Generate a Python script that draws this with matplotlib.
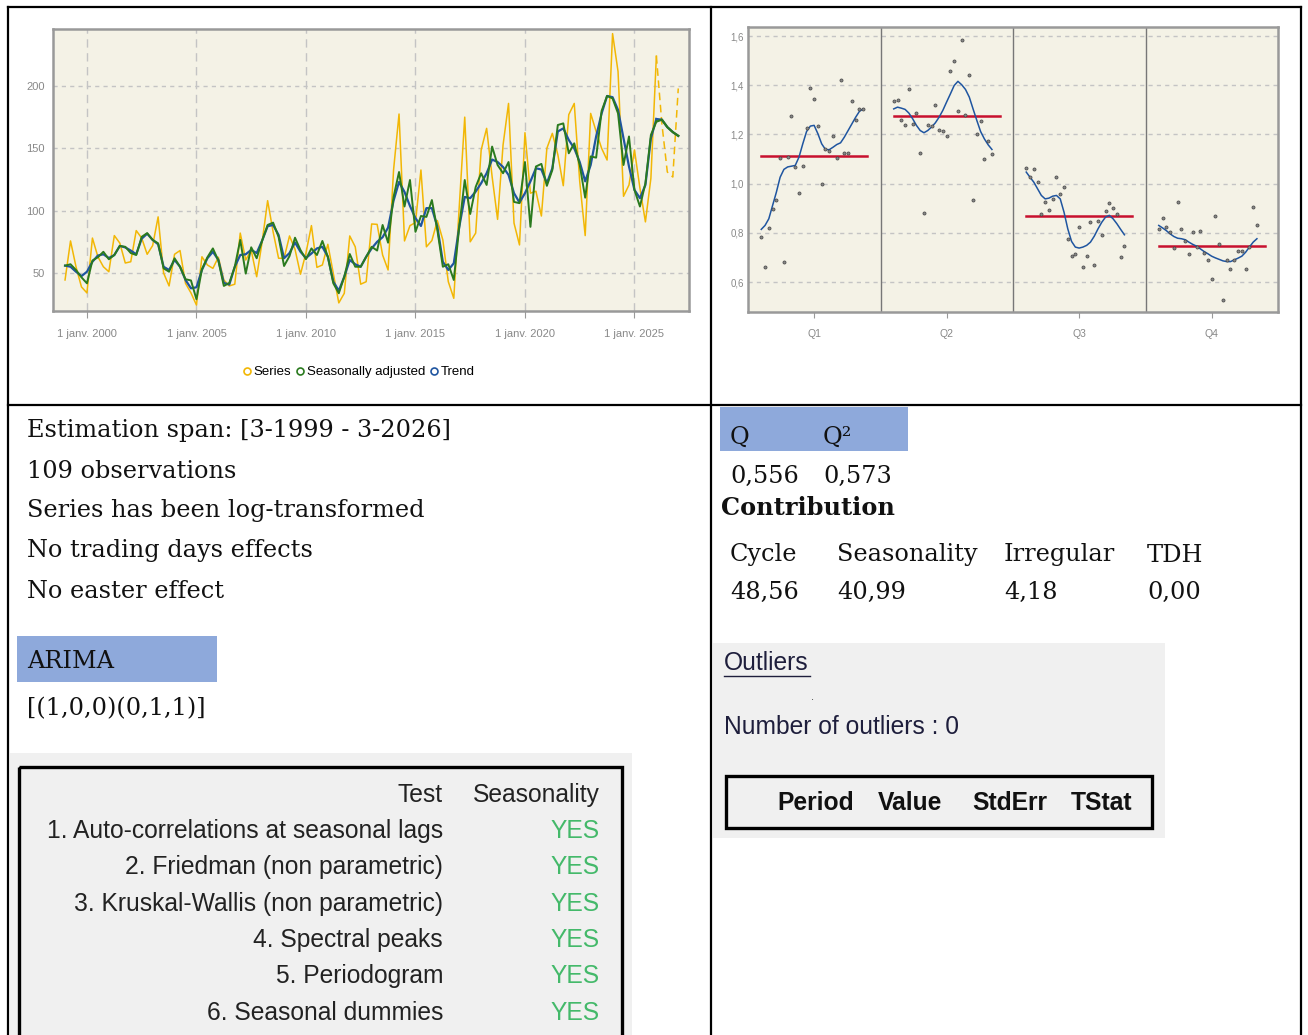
import numpy as np
import matplotlib.pyplot as plt
from matplotlib.patches import Rectangle
from matplotlib.lines import Line2D

# ---- data ----
series = [44.4, 75.7, 55, 38.8, 34, 78, 63, 55, 51, 80, 74, 58, 59, 84, 78, 65, 72, 95, 50, 39.6,
          65, 68, 41.7, 34, 24.3, 63, 56.4, 53.7, 62.6, 44.4, 39.6, 41, 82, 60.4, 68.4, 47, 75, 108, 83, 61.8,
          61.8, 79.7, 69, 49, 66, 88, 54.5, 56.4, 73, 49.5, 26, 33.7, 79.7, 71, 41, 43, 89.3, 89, 64.4, 52.4,
          132.6, 177.5, 75.7, 88, 90.4, 132.6, 71, 76, 92, 76.5, 43, 29.7, 103.3, 175, 75, 82, 148.7, 166, 127.3, 93,
          152.7, 186, 90, 72.5, 162.5, 114, 115.6, 95.7, 150, 162, 145, 120, 177, 186, 123.5, 80, 178, 163.5, 150, 140.6,
          242, 211.6, 111.5, 120.6, 148.7, 118, 91, 126, 224]
sa = [55.9, 57, 52.4, 46.5, 41.7, 60, 62.6, 67, 61, 64.4, 71.7, 71, 66, 64.4, 79, 82, 76.5, 73.8, 53.7, 51,
      61.8, 55, 45, 44, 28.9, 53, 62.6, 69.7, 60, 39.6, 42, 55, 76.5, 49.5, 70.6, 61.8, 76, 88.5, 90.4, 79,
      55.6, 63.6, 78.3, 68.4, 61, 69.7, 64.4, 75.7, 63, 41.7, 33.7, 47, 65.2, 55, 55, 63, 71, 68, 88.5, 74.3,
      111, 131, 103.3, 124.6, 83, 95.7, 95, 108.5, 84.5, 55, 57, 44.4, 87, 124.6, 97.3, 119, 130, 120.6, 151.4, 136.6,
      130, 139, 107, 106, 139, 87, 135.4, 137.5, 119.9, 132.6, 168.7, 170, 146, 154, 136.6, 110.4, 143.5, 142.5, 180, 192,
      190, 178, 136.6, 159.5, 116.6, 103.3, 122, 160.7, 171.4]
trend = [55.9, 55, 51, 47.5, 51, 59, 64, 65, 62, 64.4, 71.7, 70.5, 68, 65, 77.5, 81.5, 76.5, 73, 55, 52.4,
         60.5, 55, 44.4, 37.7, 38.5, 52.4, 61.8, 67, 60.5, 42, 40.7, 55, 64.4, 65, 68.5, 66, 76, 87.5, 88.5, 80.5,
         61.8, 66, 74.5, 67, 62, 65.6, 69.7, 71, 63, 43, 35.8, 47, 60.4, 57, 55, 63, 69.7, 75, 78.7, 86.4,
         108, 123, 115, 103.7, 94, 87.7, 102, 102, 87, 59, 52.4, 57.8, 87, 111, 110, 115.3, 122, 130, 141, 139,
         135, 128.6, 114, 106.5, 114, 123.5, 134, 133, 122, 134, 163.5, 166, 156.7, 150, 139, 123.5, 136.6, 159.5, 178, 192,
         191, 180.8, 158, 135.4, 116.6, 110, 120.6, 158, 173.5]
fc_series = [170, 131, 127, 198]
fc_sa = [173, 167, 163, 160]
fc_trend = [173, 167, 163, 160]
start_year = 1999
year_ticks = [2000, 2005, 2010, 2015, 2020, 2025]

si_q1 = [0.781, 0.660, 0.819, 0.898, 0.933, 1.105, 0.683, 1.108, 1.275, 1.067, 0.963, 1.070, 1.228, 1.388,
         1.345, 1.234, 0.999, 1.139, 1.132, 1.193, 1.106, 1.422, 1.125, 1.125, 1.337, 1.260, 1.304, 1.304]
si_q2 = [1.338, 1.342, 1.257, 1.238, 1.386, 1.241, 1.288, 1.125, 0.881, 1.237, 1.234, 1.318, 1.220, 1.216,
         1.193, 1.459, 1.497, 1.295, 1.584, 1.281, 1.440, 0.933, 1.200, 1.253, 1.101, 1.172, 1.121]
si_q3 = [1.063, 1.029, 1.058, 1.006, 0.875, 0.925, 0.894, 0.938, 1.029, 0.959, 0.988, 0.776, 0.705, 0.712,
         0.823, 0.660, 0.704, 0.843, 0.671, 0.850, 0.793, 0.888, 0.922, 0.902, 0.875, 0.701, 0.746]
si_q4 = [0.814, 0.861, 0.824, 0.803, 0.739, 0.927, 0.814, 0.765, 0.713, 0.803, 0.742, 0.807, 0.717, 0.690,
         0.613, 0.868, 0.755, 0.526, 0.690, 0.654, 0.690, 0.727, 0.727, 0.654, 0.742, 0.907, 0.830]
sf_q1 = [0.814, 0.830, 0.857, 0.911, 0.965, 1.026, 1.058, 1.068, 1.071, 1.074, 1.108, 1.162, 1.212, 1.234,
         1.237, 1.203, 1.162, 1.139, 1.138, 1.148, 1.159, 1.166, 1.189, 1.216, 1.243, 1.270, 1.294, 1.304]
sf_q2 = [1.304, 1.311, 1.307, 1.302, 1.287, 1.264, 1.237, 1.216, 1.207, 1.216, 1.230, 1.247, 1.270, 1.298,
         1.332, 1.365, 1.399, 1.416, 1.402, 1.383, 1.352, 1.304, 1.257, 1.212, 1.182, 1.158, 1.139]
sf_q3 = [1.047, 1.026, 1.006, 0.979, 0.952, 0.938, 0.941, 0.949, 0.952, 0.938, 0.884, 0.816, 0.765, 0.742,
         0.738, 0.742, 0.749, 0.762, 0.786, 0.816, 0.843, 0.864, 0.871, 0.857, 0.837, 0.814, 0.792]
sf_q4 = [0.830, 0.820, 0.809, 0.796, 0.785, 0.778, 0.776, 0.772, 0.762, 0.753, 0.746, 0.735, 0.724, 0.715,
         0.705, 0.698, 0.692, 0.686, 0.683, 0.683, 0.690, 0.697, 0.705, 0.721, 0.742, 0.762, 0.776]
si_mean = [1.112, 1.275, 0.868, 0.746]
quarters = ['Q1', 'Q2', 'Q3', 'Q4']

info_lines = ['Estimation span: [3-1999 - 3-2026]', '109 observations', 'Series has been log-transformed',
              'No trading days effects', 'No easter effect']
arima = '[(1,0,0)(0,1,1)]'
tests = ['1. Auto-correlations at seasonal lags', '2. Friedman (non parametric)', '3. Kruskal-Wallis (non parametric)',
         '4. Spectral peaks', '5. Periodogram', '6. Seasonal dummies']
test_res = ['YES'] * 6
q_vals = ['0,556', '0,573']
contrib_names = ['Cycle', 'Seasonality', 'Irregular', 'TDH']
contrib_vals = ['48,56', '40,99', '4,18', '0,00']
outlier_cols = ['Period', 'Value', 'StdErr', 'TStat']

W, H = 1308, 1035
BG = '#F4F2E6'
narrow = ['Liberation Sans', 'DejaVu Sans']
serif = ['DejaVu Serif']
sans = ['Liberation Sans', 'DejaVu Sans']
FS_SERIF = 17.3
FS_SANS = 17.7


def rect(x0, y0, x1, y1):
    return [x0 / W, 1 - y1 / H, (x1 - x0) / W, (y1 - y0) / H]


fig = plt.figure(figsize=(W / 100, H / 100), dpi=100)

# overlay in pixel coords for frames and text
ov = fig.add_axes([0, 0, 1, 1])
ov.set_xlim(0, W)
ov.set_ylim(H, 0)
ov.axis('off')

ov.add_patch(Rectangle((10, 753), 622, 290, color='#F0F0F0', lw=0))
ov.add_patch(Rectangle((713, 643), 452, 195, color='#F0F0F0', lw=0))
ov.add_patch(Rectangle((17, 636), 200, 46, color='#8EA9DB', lw=0))
ov.add_patch(Rectangle((720, 407), 188, 44, color='#8EA9DB', lw=0))
ov.add_patch(Rectangle((19, 767), 603, 280, fill=False, ec='black', lw=2.4))
ov.add_patch(Rectangle((726, 776), 426, 52, fill=False, ec='black', lw=2.4))

for xs, ys in [((8, 1301), (7, 7)), ((8, 1301), (405, 405)), ((8, 8), (7, 1035)),
               ((711, 711), (7, 1035)), ((1301, 1301), (7, 1035))]:
    ov.plot(xs, ys, color='black', lw=1.6, solid_capstyle='projecting')

# left text block
for k, s in enumerate(info_lines):
    ov.text(27, 431 + 40 * k, s, family=serif, fontsize=FS_SERIF, va='center', color='#111')
ov.text(27, 661, 'ARIMA', family=serif, fontsize=FS_SERIF, va='center', color='#111')
ov.text(27, 709, arima, family=serif, fontsize=FS_SERIF, va='center', color='#111')

ov.text(443, 795, 'Test', family=sans, fontsize=FS_SANS, ha='right', va='center', color='#222')
ov.text(600, 795, 'Seasonality', family=sans, fontsize=FS_SANS, ha='right', va='center', color='#222')
for k, (t, r) in enumerate(zip(tests, test_res)):
    yy = 831 + 36.3 * k
    ov.text(443, yy, t, family=sans, fontsize=FS_SANS, ha='right', va='center', color='#222')
    ov.text(600, yy, r, family=sans, fontsize=FS_SANS, ha='right', va='center', color='#44B96A')

# right text block
ov.text(730, 437, 'Q', family=serif, fontsize=FS_SERIF, va='center', color='#111')
ov.text(823, 437, 'Q²', family=serif, fontsize=FS_SERIF, va='center', color='#111')
ov.text(730, 476, q_vals[0], family=serif, fontsize=FS_SERIF, va='center', color='#111')
ov.text(823, 476, q_vals[1], family=serif, fontsize=FS_SERIF, va='center', color='#111')
ov.text(721, 508, 'Contribution', family=serif, fontsize=FS_SERIF, weight='bold', va='center', color='#111')
for xx, n, v in zip([730, 837, 1004, 1147], contrib_names, contrib_vals):
    ov.text(xx, 555, n, family=serif, fontsize=FS_SERIF, va='center', color='#111')
    ov.text(xx, 592, v, family=serif, fontsize=FS_SERIF, va='center', color='#111')

ov.text(724, 663, 'Outliers', family=sans, fontsize=FS_SANS, va='center', color='#1E1E3C')
ov.plot([724, 810], [676, 676], color='#1E1E3C', lw=1)
ov.text(811, 697, '.', family=sans, fontsize=8, va='center', color='#333')
ov.text(724, 727, 'Number of outliers : 0', family=sans, fontsize=FS_SANS, va='center', color='#1E1E3C')
for xx, c in zip([777, 878, 972, 1071], outlier_cols):
    ov.text(xx, 803, c, family=sans, fontsize=FS_SANS, weight='bold', va='center', color='#111')

# ---- top-left: series chart ----
ax = fig.add_axes(rect(53, 29, 689, 311))
ax.set_facecolor(BG)
n = len(series)
t = start_year + np.arange(n) / 4
tf = start_year + np.arange(n - 1, n + len(fc_series)) / 4
ax.plot(t, series, color='#F2B705', lw=1.1, zorder=3)
ax.plot(tf, [series[-1]] + fc_series, color='#F2B705', lw=1.1, ls=(0, (5, 3)), zorder=3)
ax.plot(t, trend, color='#1F55A0', lw=1.6, zorder=4)
ax.plot(tf, [trend[-1]] + fc_trend, color='#1F55A0', lw=1.6, zorder=4)
ax.plot(t, sa, color='#2A7A1E', lw=1.4, zorder=5)
ax.plot(tf, [sa[-1]] + fc_sa, color='#2A7A1E', lw=1.6, zorder=5)
ax.set_xlim(1998.45, 2027.49)
ax.set_ylim(19.5, 245.7)
ax.set_xticks(year_ticks)
ax.set_xticklabels(['1 janv. %d' % y for y in year_ticks], family=narrow, fontsize=8, color='#888')
ax.set_yticks([50, 100, 150, 200])
ax.set_yticklabels(['50', '100', '150', '200'], family=narrow, fontsize=8, color='#888')
ax.tick_params(axis='x', length=5, color='#999', pad=8)
ax.tick_params(axis='y', length=0, pad=6)
ax.grid(axis='x', color='#C4C4C4', ls=(0, (6, 4)), lw=1)
ax.grid(axis='y', color='#C4C4C4', ls=(0, (3, 3)), lw=1)
for sp in ax.spines.values():
    sp.set_color('#999999')
    sp.set_linewidth(1.8)

handles = [Line2D([], [], ls='none', marker='o', mfc='none', mec=c, ms=5, mew=1.2)
           for c in ['#F2B705', '#2A7A1E', '#1F55A0']]
fig.legend(handles, ['Series', 'Seasonally adjusted', 'Trend'], loc='center',
           bbox_to_anchor=(358 / W, 1 - 372 / H), ncol=3, frameon=False, handletextpad=0.1,
           columnspacing=0.3, handlelength=0.8, prop={'family': narrow, 'size': 9.5})

# ---- top-right: SI ratios ----
ax2 = fig.add_axes(rect(748, 27, 1278, 312))
ax2.set_facecolor(BG)
for k, (si, sf) in enumerate(zip([si_q1, si_q2, si_q3, si_q4], [sf_q1, sf_q2, sf_q3, sf_q4])):
    xs = k + 0.1 + np.arange(len(si)) * 0.0285
    ax2.plot([k + 0.1, k + 0.9], [si_mean[k]] * 2, color='#C8102E', lw=1.8, zorder=3)
    ax2.plot(xs, sf, color='#1F55A0', lw=1.1, zorder=4)
    ax2.scatter(xs, si, s=5, facecolor='#888', edgecolor='#444', lw=0.5, zorder=5)
for k in [1, 2, 3]:
    ax2.axvline(k, color='#777', lw=1)
ax2.set_xlim(0, 4)
ax2.set_ylim(0.478, 1.637)
ax2.set_xticks([0.5, 1.5, 2.5, 3.5])
ax2.set_xticklabels(quarters, family=narrow, fontsize=7.5, color='#888')
yt = [0.6, 0.8, 1.0, 1.2, 1.4, 1.6]
ax2.set_yticks(yt)
ax2.set_yticklabels([('%.1f' % v).replace('.', ',') for v in yt], family=narrow, fontsize=7, color='#888')
ax2.tick_params(axis='x', length=4, color='#999', pad=8)
ax2.tick_params(axis='y', length=0, pad=3)
ax2.grid(axis='y', color='#C4C4C4', ls=(0, (3, 3)), lw=1)
for sp in ax2.spines.values():
    sp.set_color('#999999')
    sp.set_linewidth(1.8)

fig.savefig('out.png', dpi=100)
